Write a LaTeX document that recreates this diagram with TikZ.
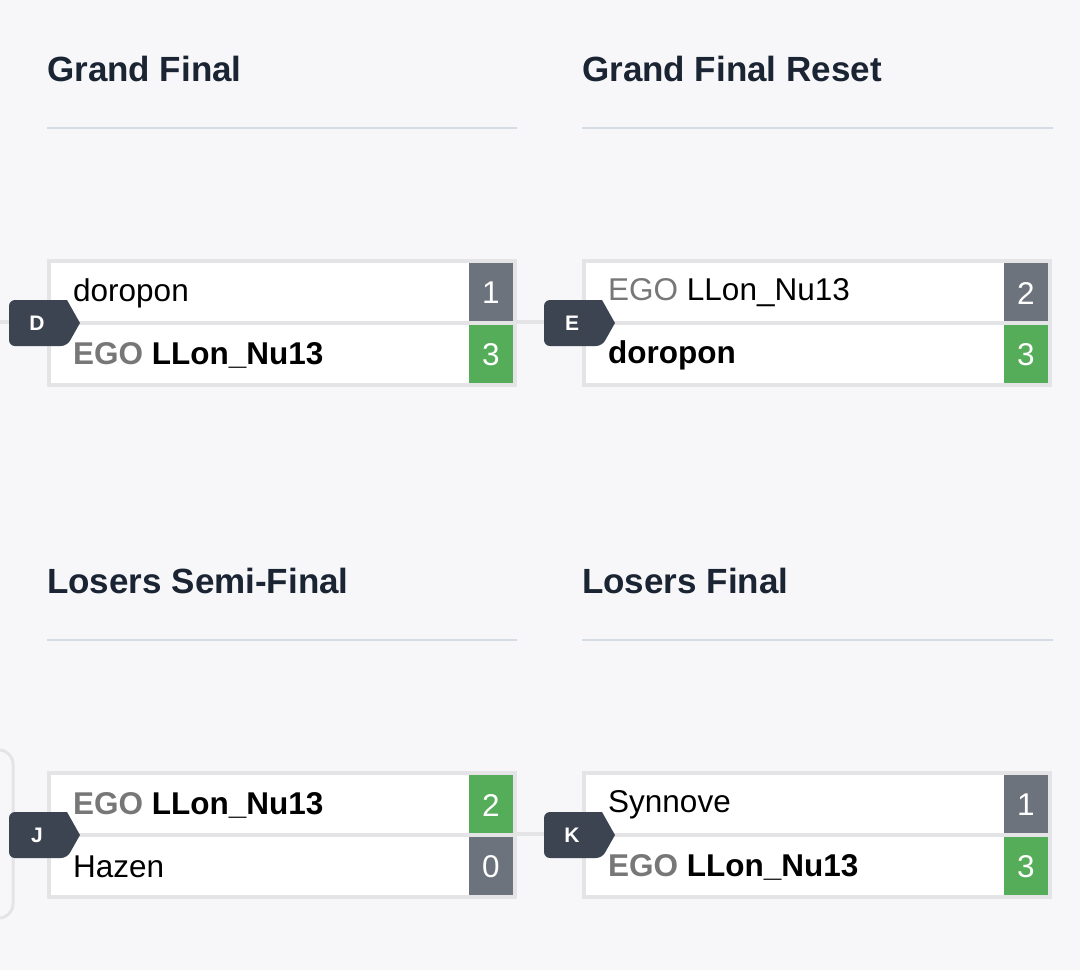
\documentclass[tikz,border=0pt]{standalone}
\usepackage{fontspec}
\setmainfont{Liberation Sans}
\definecolor{bg}{HTML}{F7F7F9}
\definecolor{bord}{HTML}{E4E4E6}
\definecolor{sgray}{HTML}{6C737D}
\definecolor{sgreen}{HTML}{55AD5A}
\definecolor{badge}{HTML}{3D4451}
\definecolor{head}{HTML}{1A2433}
\definecolor{rule}{HTML}{D5DCE6}
\definecolor{ego}{HTML}{777777}
\tikzset{
  outer/.style={fill=bord,minimum width=470pt,minimum height=128pt,anchor=north west,inner sep=0pt},
  nametxt/.style={anchor=west,inner sep=0pt,font=\fontsize{31.5}{32}\selectfont},
  scoretxt/.style={text=white,inner sep=0pt,font=\fontsize{31.5}{32}\selectfont},
  badgetxt/.style={text=white,inner sep=0pt,font=\bfseries\fontsize{21}{22}\selectfont},
  headtxt/.style={anchor=base west,inner sep=0pt,text=head,font=\bfseries\fontsize{35}{36}\selectfont},
  conn/.style={draw=bord,line width=4pt},
}
\newcommand\EGO{{\color{ego}\bfseries EGO} }
% #1 name #2 x #3 y #4 letter #5 t1 #6 s1 #7 c1 #8 t2 #9 s2
\newcommand\bmatch[9]{%
  \node[outer] (#1) at (#2,#3) {};
  \fill[white] (#2+4,#3+4) rectangle (#2+466,#3+62);
  \fill[white] (#2+4,#3+66) rectangle (#2+466,#3+124);
  \fill[#7] (#2+422,#3+4) rectangle (#2+466,#3+62);
  \fill[\othercol] (#2+422,#3+66) rectangle (#2+466,#3+124);
  \node[nametxt] (#1t1) at (#2+26,#3+34) {#5};
  \node[nametxt] (#1t2) at (#2+26,#3+96) {#8};
  \node[scoretxt] (#1s1) at (#2+444,#3+34) {#6};
  \node[scoretxt] (#1s2) at (#2+444,#3+96) {#9};
  \fill[badge,rounded corners=6pt] (#2+20,#3+41) -- (#2-38,#3+41) -- (#2-38,#3+87) -- (#2+20,#3+87) [sharp corners] -- (#2+33,#3+64) -- cycle;
  \node[badgetxt] (#1b) at (#2-10,#3+64) {#4};
}
\begin{document}
\begin{tikzpicture}[x=1pt,y=-1pt]
\fill[bg] (0,0) rectangle (1080,970);
\useasboundingbox (0,0) rectangle (1080,970);
% headers
\node[headtxt] (h1) at (47,81) {Grand Final};
\node[headtxt] (h2) at (582,81) {Grand Final Reset};
\node[headtxt] (h3) at (47,593) {Losers Semi-Final};
\node[headtxt] (h4) at (582,593) {Losers Final};
\draw[rule,line width=1.5pt] (47,128) -- (517,128) (582,128) -- (1053,128) (47,640) -- (517,640) (582,640) -- (1053,640);
% connectors
\coordinate (dl) at (0,322);
\draw[conn] (dl) -- (47,322);
\draw[conn] (517,322) -- (582,322);
\draw[conn] (517,834) -- (582,834);
\draw[draw=bord,line width=3pt,rounded corners=14pt] (-20,750) -- (13,750) -- (13,918) -- (-20,918);
\def\othercol{sgreen}
\bmatch{D}{47}{259}{D}{doropon}{1}{sgray}{\EGO\textbf{LLon\_Nu13}}{3}
\bmatch{E}{582}{259}{E}{{\color{ego}EGO} LLon\_Nu13}{2}{sgray}{\textbf{doropon}}{3}
\bmatch{K}{582}{771}{K}{Synnove}{1}{sgray}{\EGO\textbf{LLon\_Nu13}}{3}
\def\othercol{sgray}
\bmatch{J}{47}{771}{J}{\EGO\textbf{LLon\_Nu13}}{2}{sgreen}{Hazen}{0}
\end{tikzpicture}
\end{document}
